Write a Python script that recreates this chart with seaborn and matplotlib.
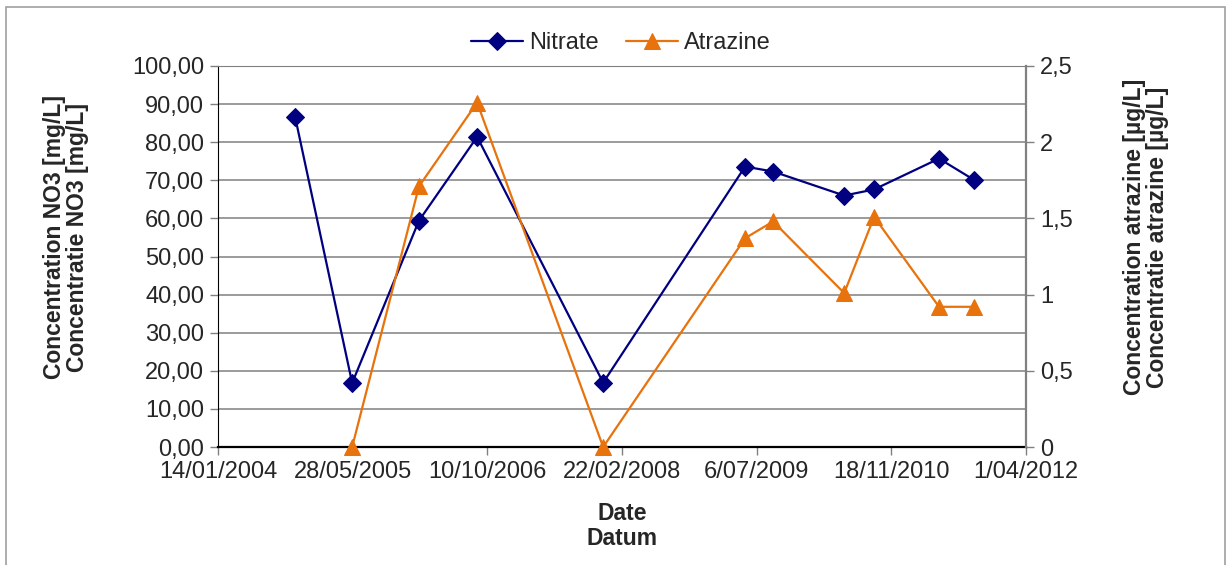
# Nitrate / atrazine concentrations over time, two y axes
import matplotlib
import pandas as pd
import seaborn as sns

matplotlib.use("Agg")
import matplotlib.pyplot as plt
import matplotlib.dates as mdates
from matplotlib.patches import Rectangle
from matplotlib.ticker import FuncFormatter

dates = ["2004-10-26", "2005-05-26", "2006-01-29", "2006-09-02", "2007-12-14",
         "2009-05-24", "2009-09-05", "2010-05-27", "2010-09-15", "2011-05-14",
         "2011-09-21"]
nitrate = [86.7, 16.8, 59.4, 81.4, 16.9, 73.6, 72.3, 66.0, 67.6, 75.7, 70.1]
atrazine = [None, 0.0, 1.71, 2.26, 0.0, 1.37, 1.48, 1.01, 1.51, 0.92, 0.92]
tick_dates = ["2004-01-14", "2005-05-28", "2006-10-10", "2008-02-22",
              "2009-07-06", "2010-11-18", "2012-04-01"]

df = pd.DataFrame({"date": pd.to_datetime(dates), "Nitrate": nitrate, "Atrazine": atrazine})
ticks = pd.to_datetime(tick_dates)

sns.set_style("white")
plt.rcParams["font.family"] = ["Liberation Sans", "DejaVu Sans"]

navy = "#000080"
orange = "#E8720C"

fig = plt.figure(figsize=(12.27, 5.65), dpi=100)
ax = fig.add_axes([0.1777, 0.2088, 0.8362 - 0.1777, 0.8832 - 0.2088])
ax2 = ax.twinx()

sns.lineplot(data=df, x="date", y="Nitrate", ax=ax, color=navy, marker="D",
             markersize=9.5, markeredgecolor=navy, linewidth=1.6, label="Nitrate",
             legend=False, clip_on=False)
sns.lineplot(data=df.dropna(), x="date", y="Atrazine", ax=ax2, color=orange, marker="^",
             markersize=11.5, markeredgecolor=orange, linewidth=1.6, label="Atrazine",
             legend=False, clip_on=False)

ax.set_xlim(ticks[0], ticks[-1])
ax.set_ylim(0, 100)
ax2.set_ylim(0, 2.5)
ax.set_xticks(ticks)
ax.xaxis.set_major_formatter(FuncFormatter(
    lambda v, p: (lambda d: f"{d.day}/{d.month:02d}/{d.year}")(mdates.num2date(v))))
ax.set_yticks(range(0, 101, 10))
ax.yaxis.set_major_formatter(FuncFormatter(lambda v, p: f"{v:.2f}".replace(".", ",")))
ax2.set_yticks([0, 0.5, 1, 1.5, 2, 2.5])
ax2.yaxis.set_major_formatter(FuncFormatter(lambda v, p: f"{v:g}".replace(".", ",")))

ax.grid(axis="y", color="#808080", linewidth=1.1)
ax.set_axisbelow(True)

for a in (ax, ax2):
    for s in a.spines.values():
        s.set_visible(False)
ax.spines["left"].set_visible(True)
ax.spines["left"].set_color("black")
ax.spines["bottom"].set_visible(True)
ax.spines["bottom"].set_color("black")
ax.spines["bottom"].set_linewidth(1.6)
ax.spines["top"].set_visible(True)
ax.spines["top"].set_color("#808080")
ax2.spines["right"].set_visible(True)
ax2.spines["right"].set_color("#808080")
ax2.spines["right"].set_linewidth(1.6)

ax.tick_params(axis="both", direction="out", length=6, width=1, color="#808080",
               labelsize=17, left=True, bottom=True, pad=4)
ax2.tick_params(axis="y", direction="out", length=6, width=1, color="#808080",
                labelsize=17, right=True, pad=4)

ax.set_xlabel("Date\nDatum", fontsize=16.5, fontweight="bold", labelpad=14,
              linespacing=1.1)
ax.set_ylabel("Concentration NO3 [mg/L]\nConcentratie NO3 [mg/L]", fontsize=16.5,
              fontweight="bold", linespacing=1.0)
ax2.set_ylabel("Concentration atrazine [µg/L]\nConcentratie atrazine [µg/L]", fontsize=16.5,
               fontweight="bold", rotation=90, linespacing=1.0)
ax.yaxis.set_label_coords(-0.160, 0.551)
ax2.yaxis.set_label_coords(1.120, 0.551)

h1, l1 = ax.get_legend_handles_labels()
h2, l2 = ax2.get_legend_handles_labels()
fig.legend(h1 + h2, l1 + l2, loc="center", bbox_to_anchor=(0.506, 0.924), ncol=2,
           frameon=False, fontsize=17, handlelength=2.2, columnspacing=1.15,
           handletextpad=0.25)

fig.patches.append(Rectangle((6 / 1227, -0.01), 1219 / 1227, 1 - 7 / 565 + 0.01,
                             transform=fig.transFigure, fill=False,
                             edgecolor="#A0A0A0", linewidth=1.2))

plt.savefig("out.png", dpi=100)
